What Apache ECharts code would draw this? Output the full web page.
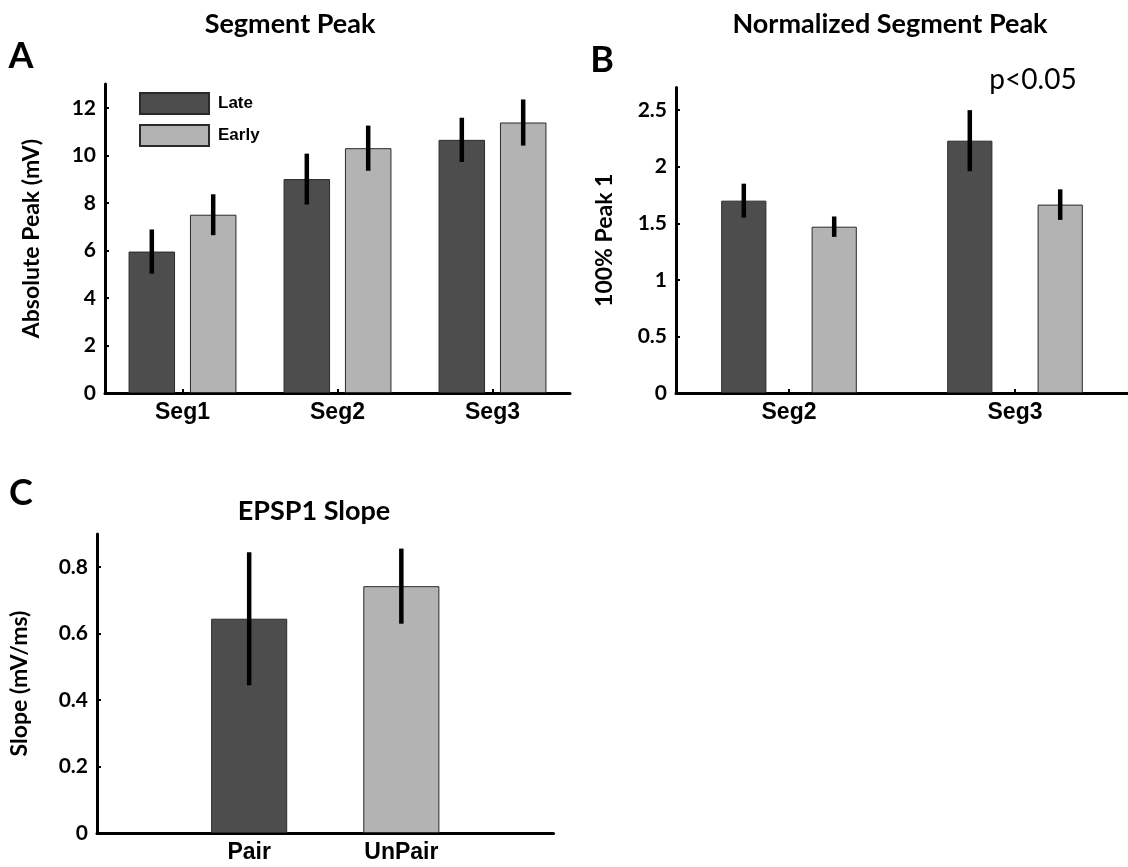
<!DOCTYPE html>
<html>
<head>
<meta charset="utf-8">
<script src="https://cdn.jsdelivr.net/npm/echarts@6/dist/echarts.min.js"></script>
<style>
  html, body { margin: 0; padding: 0; background: #fff; }
  #chart { width: 1128px; height: 867px; }
</style>
</head>
<body>
<div id="chart"></div>
<script>
// Panel A: absolute segment peak (mV)
const segCats = ['Seg1', 'Seg2', 'Seg3'];
const peakLate = [5.95, 9.0, 10.65];
const peakLateErr = [0.93, 1.07, 0.93];
const peakEarly = [7.5, 10.3, 11.38];
const peakEarlyErr = [0.86, 0.95, 0.97];

// Panel B: segment peak normalised to peak 1
const normCats = ['Seg2', 'Seg3'];
const normLate = [1.70, 2.23];
const normLateErr = [0.15, 0.27];
const normEarly = [1.47, 1.665];
const normEarlyErr = [0.09, 0.135];

// Panel C: EPSP1 slope (mV/ms); empty slots pad the axis at both ends
const slopeCats = ['', 'Pair', 'UnPair', ''];
const slopeVals = [null, 0.645, 0.743, null];
const slopeErr = [null, 0.2, 0.113, null];

const DARK = '#4d4d4d';
const LIGHT = '#b3b3b3';
const CAL = 'Lato';
const ARIAL = '"Liberation Sans", Arial, sans-serif';

// bar layout fractions shared by bars and error bars
const A_BAR = 0.30, A_GAP = 0.32;
const B_BAR = 0.20, B_GAP = 1.00;

function errRender(offsetFrac) {
  return function (params, api) {
    const x = api.value(0);
    const lo = api.coord([x, api.value(1)]);
    const hi = api.coord([x, api.value(2)]);
    const band = api.size([1, 0])[0];
    const dx = band * offsetFrac;
    return {
      type: 'line',
      shape: { x1: lo[0] + dx, y1: lo[1], x2: hi[0] + dx, y2: hi[1] },
      style: { stroke: '#000', lineWidth: 4.5 }
    };
  };
}

function errData(vals, errs) {
  const out = [];
  vals.forEach((v, i) => {
    if (v != null) out.push([i, v - errs[i], v + errs[i]]);
  });
  return out;
}

function yAxisCfg(gridIndex, max, interval, name, nameGap) {
  return {
    type: 'value', gridIndex, min: 0, max, interval,
    name, nameLocation: 'middle', nameGap,
    nameTextStyle: { fontFamily: CAL, fontWeight: 'bold', fontSize: 23, color: '#000' },
    axisLine: { show: true, lineStyle: { color: '#000', width: 3 } },
    axisTick: { show: true, inside: true, length: 4, lineStyle: { color: '#000', width: 2 } },
    axisLabel: { fontFamily: CAL, fontWeight: 'bold', fontSize: 21, color: '#000', margin: 9, showMaxLabel: false },
    splitLine: { show: false }
  };
}

function xAxisCfg(gridIndex, data, showTick, boundaryGap) {
  return {
    type: 'category', gridIndex, data, boundaryGap,
    axisLine: { show: true, lineStyle: { color: '#000', width: 3 } },
    axisTick: { show: showTick, inside: true, alignWithLabel: true, length: 4, lineStyle: { color: '#000', width: 2 } },
    axisLabel: { fontFamily: ARIAL, fontWeight: 'bold', fontSize: 23, color: '#000', margin: 8, interval: 0 },
    splitLine: { show: false }
  };
}

const barBorder = { borderColor: '#2a2a2a', borderWidth: 1 };

const option = {
  backgroundColor: '#fff',
  animation: false,
  grid: [
    { left: 105, top: 84, width: 465, height: 309 },
    { left: 676, top: 87.5, width: 462, height: 305.5 },
    { left: 97, top: 534, width: 456.5, height: 299 }
  ],
  legend: {
    data: ['Late', 'Early'],
    orient: 'vertical',
    left: 134, top: 87,
    itemWidth: 69, itemHeight: 21, itemGap: 9,
    icon: 'rect',
    textStyle: { fontFamily: ARIAL, fontWeight: 'bold', fontSize: 17, color: '#000', padding: [0, 0, 0, 4] }
  },
  xAxis: [
    xAxisCfg(0, segCats, true, true),
    xAxisCfg(1, normCats, true, true),
    xAxisCfg(2, slopeCats, false, false)
  ],
  yAxis: [
    yAxisCfg(0, 13, 2, 'Absolute Peak (mV)', 62),
    yAxisCfg(1, 2.7, 0.5, '100% Peak 1', 60),
    yAxisCfg(2, 0.9, 0.2, 'Slope (mV/ms)', 66)
  ],
  graphic: [
    { type: 'text', x: 290, y: 24, style: { text: 'Segment Peak', font: 'bold 27px Lato', fill: '#000', align: 'center', verticalAlign: 'middle' } },
    { type: 'text', x: 890, y: 24, style: { text: 'Normalized Segment Peak', font: 'bold 27px Lato', fill: '#000', align: 'center', verticalAlign: 'middle' } },
    { type: 'text', x: 314, y: 511, style: { text: 'EPSP1 Slope', font: 'bold 27px Lato', fill: '#000', align: 'center', verticalAlign: 'middle' } },
    { type: 'text', x: 21, y: 56, style: { text: 'A', font: 'bold 36px Lato', fill: '#000', align: 'center', verticalAlign: 'middle' } },
    { type: 'text', x: 602, y: 60, style: { text: 'B', font: 'bold 36px Lato', fill: '#000', align: 'center', verticalAlign: 'middle' } },
    { type: 'text', x: 21, y: 493, style: { text: 'C', font: 'bold 36px Lato', fill: '#000', align: 'center', verticalAlign: 'middle' } },
    { type: 'text', x: 1033, y: 80, style: { text: 'p<0.05', font: '28px Lato', fill: '#000', align: 'center', verticalAlign: 'middle' } }
  ],
  series: [
    {
      name: 'Late', type: 'bar', xAxisIndex: 0, yAxisIndex: 0,
      data: peakLate, barWidth: (A_BAR * 100) + '%', barGap: (A_GAP * 100) + '%',
      itemStyle: Object.assign({ color: DARK }, barBorder)
    },
    {
      name: 'Early', type: 'bar', xAxisIndex: 0, yAxisIndex: 0,
      data: peakEarly, barWidth: (A_BAR * 100) + '%', barGap: (A_GAP * 100) + '%',
      itemStyle: Object.assign({ color: LIGHT }, barBorder)
    },
    {
      type: 'custom', xAxisIndex: 0, yAxisIndex: 0, z: 5,
      renderItem: errRender(-A_BAR * (1 + A_GAP) / 2),
      data: errData(peakLate, peakLateErr)
    },
    {
      type: 'custom', xAxisIndex: 0, yAxisIndex: 0, z: 5,
      renderItem: errRender(A_BAR * (1 + A_GAP) / 2),
      data: errData(peakEarly, peakEarlyErr)
    },
    {
      name: 'Late', type: 'bar', xAxisIndex: 1, yAxisIndex: 1,
      data: normLate, barWidth: (B_BAR * 100) + '%', barGap: (B_GAP * 100) + '%',
      itemStyle: Object.assign({ color: DARK }, barBorder)
    },
    {
      name: 'Early', type: 'bar', xAxisIndex: 1, yAxisIndex: 1,
      data: normEarly, barWidth: (B_BAR * 100) + '%', barGap: (B_GAP * 100) + '%',
      itemStyle: Object.assign({ color: LIGHT }, barBorder)
    },
    {
      type: 'custom', xAxisIndex: 1, yAxisIndex: 1, z: 5,
      renderItem: errRender(-B_BAR * (1 + B_GAP) / 2),
      data: errData(normLate, normLateErr)
    },
    {
      type: 'custom', xAxisIndex: 1, yAxisIndex: 1, z: 5,
      renderItem: errRender(B_BAR * (1 + B_GAP) / 2),
      data: errData(normEarly, normEarlyErr)
    },
    {
      type: 'bar', xAxisIndex: 2, yAxisIndex: 2, barWidth: '50%',
      data: slopeVals.map((v, i) => v == null ? '-' : {
        value: v,
        itemStyle: Object.assign({ color: i === 1 ? DARK : LIGHT }, barBorder)
      })
    },
    {
      type: 'custom', xAxisIndex: 2, yAxisIndex: 2, z: 5,
      renderItem: errRender(0),
      data: errData(slopeVals, slopeErr)
    }
  ]
};

const chart = echarts.init(document.getElementById('chart'), null, { renderer: 'canvas' });
chart.setOption(option);
</script>
</body>
</html>
